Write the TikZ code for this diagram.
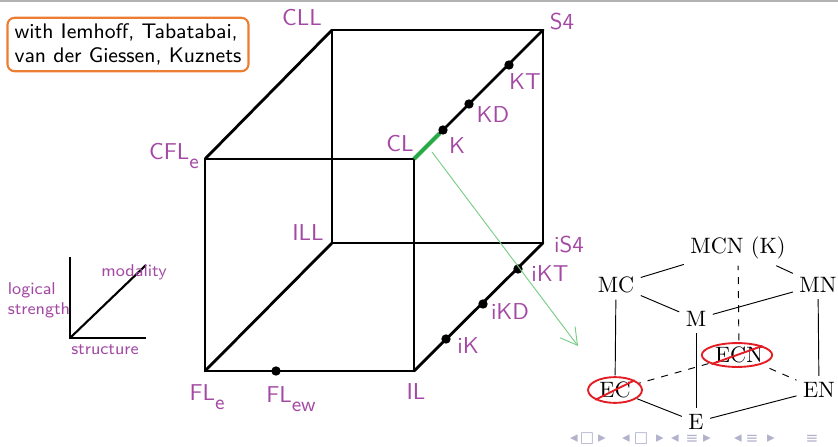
\documentclass[tikz,border=0pt]{standalone}
\usepackage{fontspec}
\newfontfamily\navfont{DejaVu Sans}
\usetikzlibrary{arrows.meta,shapes.geometric}

\definecolor{labpurple}{RGB}{163,73,164}
\definecolor{boxorange}{RGB}{237,125,49}
\definecolor{edgegreen}{RGB}{40,170,70}
\definecolor{arrgreen}{RGB}{120,205,135}
\definecolor{navgray}{RGB}{178,178,205}
\definecolor{crossred}{RGB}{228,28,36}

\begin{document}
\begin{tikzpicture}[
  x=0.015cm, y=-0.015cm,
  namebox/.style={rectangle, draw=boxorange, line width=0.9pt, rounded corners=3pt,
    align=left, font=\fontsize{9}{10.5}\sffamily, inner xsep=3pt, inner ysep=2.4pt},
  cubeline/.style={line width=1.2pt, line cap=round, line join=round},
  greenedge/.style={line width=1.8pt, draw=edgegreen},
  lablnode/.style={text=labpurple, font=\fontsize{9.8}{11}\sffamily, inner sep=0pt},
  dotnode/.style={circle, fill=black, inner sep=0pt, minimum size=4pt},
  axisline/.style={line width=0.9pt},
  axislabel/.style={text=labpurple, font=\fontsize{7.3}{8.6}\sffamily, inner sep=0pt, align=left},
  pointarr/.style={-{Straight Barb[length=7pt, width=8pt]}, draw=arrgreen, line width=0.4pt},
  logicnode/.style={font=\fontsize{9.5}{11}\selectfont, inner sep=2.6pt},
  logicline/.style={line width=0.4pt},
  ringnode/.style={ellipse, draw=crossred, line width=0.8pt, inner sep=0pt},
  strike/.style={draw=crossred, line width=0.8pt},
  navsym/.style={text=navgray, font=\navfont\fontsize{6.5}{7}\selectfont, inner sep=0pt},
]
\useasboundingbox (0,0) rectangle (838,446);

\newcommand{\subl}[1]{\raisebox{-4pt}{\fontsize{8.8}{9}\selectfont #1}}

% slide frame line
\draw[gray!60, line width=0.5pt] (0,1) -- (838,1);

% Cube corners
\def\xfl{205}
\def\xfr{414}
\def\xbl{332}
\def\xbr{543}
\def\ytf{159}
\def\ybf{371}
\def\ytb{30}
\def\ybb{243}

% ============================================================
% Credits box
% ============================================================
\node[namebox] (credits) at (128,44.5) {with Iemhoff, Tabatabai,\\van der Giessen, Kuznets};

% ============================================================
% Cube
% ============================================================
\coordinate (cll) at (\xbl, \ytb);
\coordinate (s4)  at (\xbr, \ytb);
\coordinate (ill) at (\xbl, \ybb);
\coordinate (is4) at (\xbr, \ybb);
\coordinate (cfle) at (\xfl, \ytf);
\coordinate (cl)   at (\xfr, \ytf);
\coordinate (fle)  at (\xfl, \ybf);
\coordinate (il)   at (\xfr, \ybf);

% back face
\draw[cubeline] (cll) -- (s4) -- (is4) -- (ill) -- cycle;
% front face
\draw[cubeline] (cfle) -- (cl) -- (il) -- (fle) -- cycle;
% depth edges
\draw[cubeline] (cfle) -- (cll);
\draw[cubeline] (fle) -- (ill);
\draw[cubeline] (il) -- (is4);
\draw[cubeline] (cl) -- (s4);

% points on the modal edges
\node[dotnode] (k)   at (443,130) {};
\node[dotnode] (kd)  at (469,104) {};
\node[dotnode] (kt)  at (509,65) {};
\node[dotnode] (ik)  at (446,339) {};
\node[dotnode] (ikd) at (483,304) {};
\node[dotnode] (ikt) at (518,269) {};
\node[dotnode] (flew) at (276,371) {};

\draw[greenedge] (cl) -- (k);

% labels
\node[lablnode] (lcll) at (302,18) {CLL};
\node[lablnode] (ls4)  at (562,22) {S4};
\node[lablnode] (lkt)  at (525,82) {KT};
\node[lablnode] (lkd)  at (493,115) {KD};
\node[lablnode] (lk)   at (457,146) {K};
\node[lablnode] (lcl)  at (400,144) {CL};
\node[lablnode] (lcfle) at (174,156) {CFL\subl{e}};
\node[lablnode] (lill) at (308,233) {ILL};
\node[lablnode] (lis4) at (569,245) {iS4};
\node[lablnode] (likt) at (550,274) {iKT};
\node[lablnode] (likd) at (510,312) {iKD};
\node[lablnode] (lik)  at (468,346) {iK};
\node[lablnode] (lil)  at (416,392) {IL};
\node[lablnode] (lfle) at (207,397) {FL\subl{e}};
\node[lablnode] (lflew) at (291,399) {FL\subl{ew}};

% pointer to the logic cube
\coordinate (arrstart) at (432,152);
\coordinate (arrend) at (578,346);
\draw[pointarr] (arrstart) -- (arrend);

% ============================================================
% Axes legend
% ============================================================
\coordinate (axo) at (70,338);
\coordinate (axy) at (70,257);
\coordinate (axx) at (146,338);
\coordinate (axd) at (146,265);

\draw[axisline] (axy) -- (axo) -- (axx);
\draw[axisline] (axo) -- (axd);

\node[axislabel] (lstrength) at (39,300) {logical\\strength};
\node[axislabel] (lmodal) at (134,272) {modality};
\node[axislabel] (lstruct) at (105,350) {structure};

% ============================================================
% Modal logic cube
% ============================================================
\node[logicnode] (mcn) at (738,248) {MCN (K)};
\node[logicnode] (mc)  at (616,285) {MC};
\node[logicnode] (mn)  at (818,285) {MN};
\node[logicnode] (m)   at (696,319) {M};
\node[logicnode] (ecn) at (739,355) {ECN};
\node[logicnode] (ec)  at (615,390) {EC};
\node[logicnode] (en)  at (819,390) {EN};
\node[logicnode] (e)   at (696,422) {E};

\draw[logicline] (mcn) -- (mc);
\draw[logicline] (mcn) -- (mn);
\draw[logicline] (mc) -- (m);
\draw[logicline] (mn) -- (m);
\draw[logicline] (mc) -- (ec);
\draw[logicline] (mn) -- (en);
\draw[logicline] (m) -- (e);
\draw[logicline] (ec) -- (e);
\draw[logicline] (en) -- (e);
\draw[logicline, dashed] (ecn) -- (ec);
\draw[logicline, dashed] (ecn) -- (en);
\draw[logicline, dashed] (ecn) -- (mcn);

% ruled out
\node[ringnode, minimum width=30pt, minimum height=10.2pt] (ecnring) at (737,355) {};
\node[ringnode, minimum width=23pt, minimum height=11pt] (ecring) at (615,390) {};
\draw[strike] (ecnring.south west) -- (ecnring.north east);
\draw[strike] (ecring.south west) -- (ecring.north east);

% ============================================================
% Navigation symbols
% ============================================================
\foreach \px/\glyph in {574/◂, 587/□, 602/▸, 626/◂, 641/□, 660/▸,
    675/◂, 692/≡, 707/▸, 738/◂, 752/≡, 771/▸, 812/≡}
  \node[navsym] (nav-\px) at (\px,439) {\glyph};

\end{tikzpicture}
\end{document}
